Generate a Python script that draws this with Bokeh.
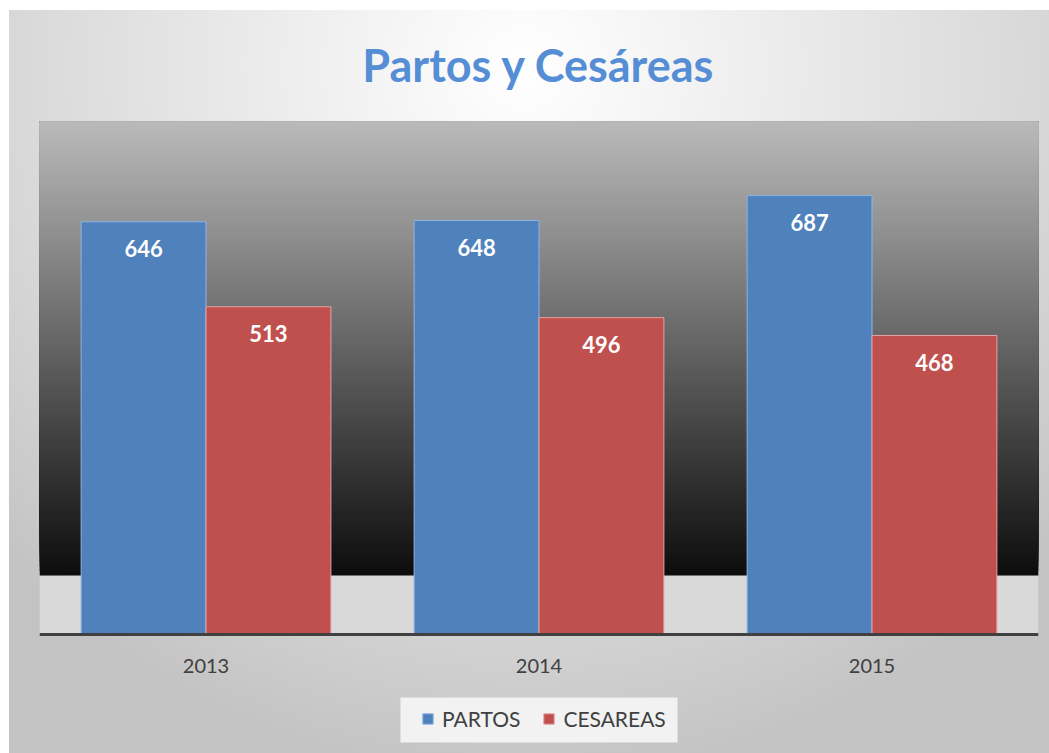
from bokeh.plotting import figure
from bokeh.models import ColumnDataSource, Range1d, FactorRange, Legend, LegendItem, BoxAnnotation
from bokeh.transform import dodge
from bokeh.embed import file_html
from bokeh.resources import INLINE
from bokeh.core.properties import value

years = ["2013", "2014", "2015"]
partos = [646, 648, 687]
cesareas = [513, 496, 468]
series_names = ["PARTOS", "CESAREAS"]
title_text = "Partos y Cesáreas"

src = ColumnDataSource(dict(
    year=years,
    partos=partos,
    cesareas=cesareas,
    partos_txt=[str(v) for v in partos],
    ces_txt=[str(v) for v in cesareas],
))

p = figure(
    x_range=FactorRange(*years, range_padding=0),
    y_range=Range1d(-186.2, 803),
    width=1049, height=753,
    output_backend="svg", toolbar_location=None,
    min_border_left=39, min_border_right=11, min_border_top=121, min_border_bottom=0,
)

p.styles = {"background": (
    "linear-gradient(#ffffff,#ffffff) 0 0 / 100% 10px no-repeat, "
    "linear-gradient(#ffffff,#ffffff) 0 0 / 9px 100% no-repeat, "
    "radial-gradient(ellipse 68% 95% at 50% 9%, #ffffff 0%, #f0f0f0 28%, #d8d8d8 72%, #c3c3c3 100%)")}
p.border_fill_alpha = 0
p.background_fill_alpha = 0
p.outline_line_color = None

# plot-area fills (decoration)
p.add_layout(BoxAnnotation(bottom=0, top=92.3, fill_color="#d9d9d9", fill_alpha=1,
                           line_alpha=0, level="underlay"))
g_bottom, g_top, n = 92.3, 803.0, 100
step = (g_top - g_bottom) / n
for i in range(n):
    t = (i + 0.5) / n
    c = int(round(12 + (186 - 12) * t))
    col = "#%02x%02x%02x" % (c, c, c)
    p.add_layout(BoxAnnotation(bottom=g_bottom + i * step, top=g_top,
                               fill_color=col, fill_alpha=1, line_alpha=0, level="underlay"))

# legend background box (decoration)
p.add_layout(BoxAnnotation(left=1.084, right=1.916, top=-98.6, bottom=-169.0,
                           fill_color="#f2f2f2", fill_alpha=1, line_alpha=0, level="underlay"))

w = 0.375
r1 = p.vbar(x=dodge("year", -w / 2, range=p.x_range), top="partos", width=w, source=src,
            fill_color="#4F81BD", line_color="#8EB4E3", line_width=1)
r2 = p.vbar(x=dodge("year", w / 2, range=p.x_range), top="cesareas", width=w, source=src,
            fill_color="#C0504D", line_color="#E6A3A1", line_width=1)

lab_kw = dict(source=src, text_align="center", text_baseline="top", text_color="white",
              text_font=value("Lato"), text_font_style="bold", text_font_size="22px", y_offset=18)
p.text(x=dodge("year", -w / 2, range=p.x_range), y="partos", text="partos_txt", **lab_kw)
p.text(x=dodge("year", w / 2, range=p.x_range), y="cesareas", text="ces_txt", **lab_kw)

p.title.text = title_text
p.title.align = "center"
p.title.text_font = "Lato"
p.title.text_font_style = "bold"
p.title.text_font_size = "45px"
p.title.text_color = "#558ED5"
p.title.standoff = 59

p.yaxis.visible = False
p.xgrid.grid_line_color = None
p.ygrid.grid_line_color = None
ax = p.xaxis[0]
ax.fixed_location = 0
ax.axis_line_width = 3
ax.axis_line_color = "#404040"
ax.major_tick_line_color = None
ax.minor_tick_line_color = None
ax.major_label_text_font = "Lato"
ax.major_label_text_font_size = "20px"
ax.major_label_text_color = "#404040"
ax.major_label_standoff = 18

legend = Legend(
    items=[LegendItem(label=series_names[0], renderers=[r1]),
           LegendItem(label=series_names[1], renderers=[r2])],
    orientation="horizontal", location=(382, 22),
    background_fill_alpha=0, border_line_color=None,
    label_text_font="Lato", label_text_font_size="21px", label_text_color="#404040",
    glyph_width=13, glyph_height=13, label_height=22, spacing=22, padding=3, margin=0,
    label_standoff=8,
)
p.add_layout(legend, "center")

open("out.html", "w").write(file_html(p, INLINE))
